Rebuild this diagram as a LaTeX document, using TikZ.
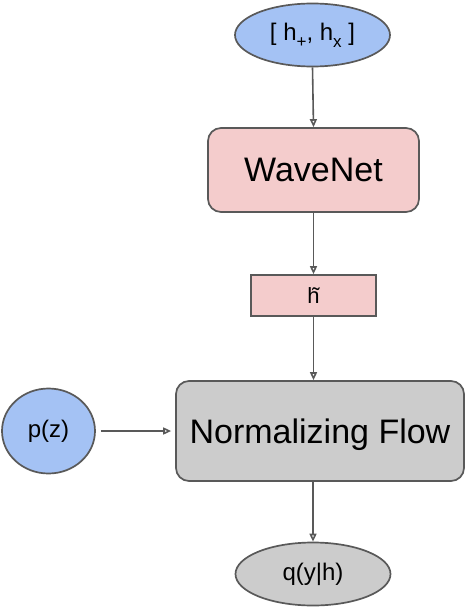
\documentclass[tikz,border=0pt]{standalone}
\usepackage{fontspec}
\setmainfont{Liberation Sans}
\usepackage{tikz}
\usetikzlibrary{arrows.meta, shapes.geometric, positioning}
\definecolor{inputblue}{HTML}{A4C2F4}
\definecolor{netpink}{HTML}{F4CCCC}
\definecolor{flowgray}{HTML}{CCCCCC}
\definecolor{edgegray}{HTML}{595959}
\newcommand{\lowsub}[1]{\raisebox{-0.3em}{\fontsize{17}{18}\selectfont #1}}

\begin{document}
\begin{tikzpicture}[x=1pt, y=-1pt,
    every node/.style={draw=edgegray, line width=1.7pt, inner sep=0pt},
    blob/.style={ellipse, minimum width=155pt, minimum height=63pt, font=\fontsize{24}{28}\selectfont},
    bigbox/.style={rounded corners=13pt, font=\fontsize{34}{40}\selectfont},
    flowarrow/.style={draw=edgegray, line width=1.6pt, -{Triangle[open, length=8pt, width=7pt]}}]
  \useasboundingbox (0,0) rectangle (466,610);
  % nodes
  \node[blob, fill=inputblue] (wave) at (312.5,35) {[ h\lowsub{+}, h\lowsub{x} ]};
  \node[bigbox, fill=netpink, minimum width=211pt, minimum height=84pt] (wavenet) at (313.5,170) {WaveNet};
  \node[fill=netpink, minimum width=125pt, minimum height=41pt, font=\fontsize{22}{26}\selectfont] (htilde) at (313.5,295.5) {h\llap{\char"02DC}};
  \node[bigbox, fill=flowgray, minimum width=288pt, minimum height=100pt, text depth=0pt] (flow) at (320,431) {Normalizing Flow};
  \node[blob, fill=inputblue, minimum width=93pt, minimum height=85pt] (prior) at (48.5,431) {p(z)};
  \node[blob, fill=flowgray] (post) at (313,574) {q(y|h)};
  % connectors
  \draw[flowarrow] (wave.south) -- (wavenet.north);
  \draw[flowarrow] (wavenet.south) -- (htilde.north);
  \draw[flowarrow] (htilde.south) -- (htilde.south |- flow.north);
  \draw[flowarrow, shorten <=5pt, shorten >=4pt] (prior.east) -- (flow.west);
  \draw[flowarrow] (post.north |- flow.south) -- (post.north);
\end{tikzpicture}
\end{document}
